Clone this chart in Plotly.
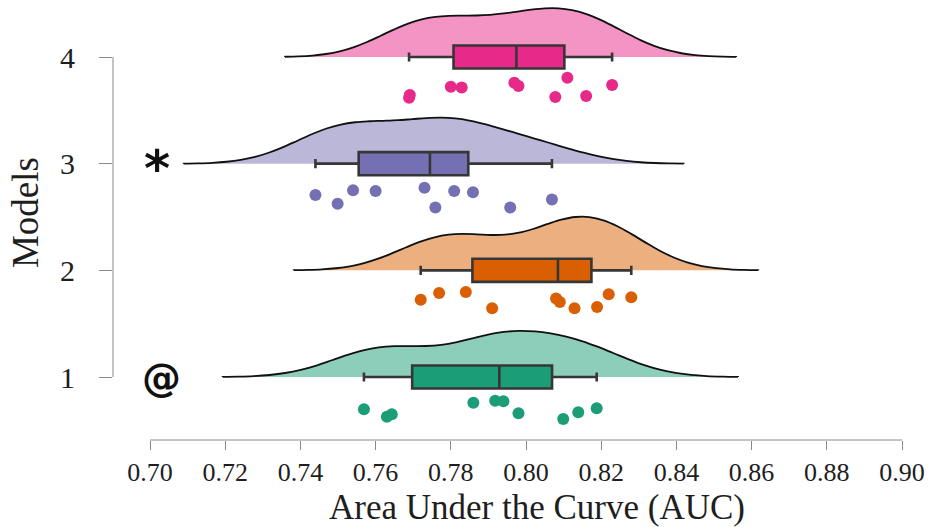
import numpy as np
import plotly.graph_objects as go

# ---------------- data ----------------
model_ids = [1, 2, 3, 4]
model_labels = ["1", "2", "3", "4"]

auc_m1 = [0.7569, 0.7630, 0.7643, 0.7860, 0.7918, 0.7940, 0.7980, 0.8099, 0.8139, 0.8188]
jit_m1 = [-0.303, -0.372, -0.350, -0.241, -0.222, -0.228, -0.340, -0.394, -0.331, -0.293]

auc_m2 = [0.7720, 0.7769, 0.7840, 0.7910, 0.8080, 0.8090, 0.8129, 0.8189, 0.8220, 0.8280]
jit_m2 = [-0.275, -0.213, -0.203, -0.356, -0.265, -0.297, -0.356, -0.344, -0.225, -0.253]

auc_m3 = [0.7440, 0.7499, 0.7540, 0.7600, 0.7730, 0.7759, 0.7809, 0.7859, 0.7958, 0.8069]
jit_m3 = [-0.293, -0.375, -0.250, -0.256, -0.225, -0.410, -0.256, -0.269, -0.412, -0.335]

auc_m4 = [0.7689, 0.7691, 0.7800, 0.7829, 0.7969, 0.7980, 0.8078, 0.8110, 0.8160, 0.8229]
jit_m4 = [-0.382, -0.356, -0.278, -0.287, -0.241, -0.272, -0.375, -0.194, -0.366, -0.263]

x_ticks = [0.70, 0.72, 0.74, 0.76, 0.78, 0.80, 0.82, 0.84, 0.86, 0.88, 0.90]
x_tick_labels = ["0.70", "0.72", "0.74", "0.76", "0.78", "0.80", "0.82", "0.84", "0.86", "0.88", "0.90"]

# ---------------- styles ----------------
colors = ["#1B9E77", "#D95F02", "#7570B3", "#E7298A"]
fills = ["rgba(27,158,119,0.5)", "rgba(217,95,2,0.5)", "rgba(117,112,179,0.5)", "rgba(231,41,138,0.5)"]
all_auc = [auc_m1, auc_m2, auc_m3, auc_m4]
all_jit = [jit_m1, jit_m2, jit_m3, jit_m4]

SERIF = "Liberation Serif, Times New Roman, serif"
BOXLINE = "#363636"
AXISGRAY = "#8a8a8a"
TXT = "#1e1e1e"


def nrd0(v):
    v = np.asarray(v)
    sd = np.std(v, ddof=1)
    iqr = np.percentile(v, 75) - np.percentile(v, 25)
    return 0.9 * min(sd, iqr / 1.34) * len(v) ** (-0.2)


fig = go.Figure()

# half-violins (density)
for k, vals, fc in zip(model_ids, all_auc, fills):
    bw = nrd0(vals)
    fig.add_trace(go.Violin(
        x=vals, y=[k] * len(vals), orientation="h", side="positive",
        bandwidth=bw, spanmode="manual", span=[min(vals) - 3 * bw, max(vals) + 3 * bw],
        scalegroup="all", scalemode="width",
        fillcolor=fc, line=dict(color="#111111", width=1.8),
        points=False, box_visible=False, meanline_visible=False,
        hoverinfo="skip", showlegend=False,
    ))

# boxplots (R-style quartiles)
for k, vals, c in zip(model_ids, all_auc, colors):
    v = np.asarray(vals)
    q1, med, q3 = np.percentile(v, [25, 50, 75])
    iqr = q3 - q1
    lo = v[v >= q1 - 1.5 * iqr].min()
    hi = v[v <= q3 + 1.5 * iqr].max()
    fig.add_trace(go.Box(
        y=[k], q1=[q1], median=[med], q3=[q3], lowerfence=[lo], upperfence=[hi],
        orientation="h", width=0.216, whiskerwidth=0.4,
        fillcolor=c, line=dict(color=BOXLINE, width=2.6),
        boxpoints=False, hoverinfo="skip", showlegend=False,
    ))

# jittered raw points
for k, vals, jit, c in zip(model_ids, all_auc, all_jit, colors):
    fig.add_trace(go.Scatter(
        x=vals, y=[k + j for j in jit], mode="markers",
        marker=dict(color=c, size=12, line=dict(width=0)),
        hoverinfo="skip", showlegend=False,
    ))

fig.update_layout(
    width=930, height=527,
    margin=dict(l=113, r=28, t=5, b=87),
    paper_bgcolor="white", plot_bgcolor="white",
    violinmode="overlay", violingap=0, violingroupgap=0,
    boxmode="overlay",
    xaxis=dict(
        range=[0.69016, 0.90], tickvals=x_ticks, ticktext=x_tick_labels,
        ticks="outside", ticklen=9, tickcolor=AXISGRAY, tickwidth=1,
        showline=False, showgrid=False, zeroline=False,
        tickfont=dict(family=SERIF, size=26, color=TXT),
    ),
    yaxis=dict(
        range=[0.4094, 4.4875], tickvals=model_ids, ticktext=model_labels,
        ticks="outside", ticklen=13, tickcolor=AXISGRAY, tickwidth=1,
        showline=False, showgrid=False, zeroline=False,
        tickfont=dict(family=SERIF, size=30, color=TXT),
        ticklabelstandoff=18,
    ),
    shapes=[
        dict(type="line", xref="x", yref="paper", x0=0.70, x1=0.90, y0=0, y1=0,
             line=dict(color=AXISGRAY, width=1)),
        dict(type="line", xref="paper", yref="y", x0=0, x1=0, y0=1, y1=4,
             line=dict(color=AXISGRAY, width=1)),
    ],
    annotations=[
        dict(text="Area Under the Curve (AUC)", xref="x", yref="paper", x=0.8028, y=0,
             yshift=-67, xanchor="center", yanchor="middle", showarrow=False,
             font=dict(family=SERIF, size=35, color=TXT)),
        dict(text="Models", xref="paper", yref="y", x=0, xshift=-88, y=2.537,
             textangle=-90, xanchor="center", yanchor="middle", showarrow=False,
             font=dict(family=SERIF, size=37, color=TXT)),
        dict(text="<b>*</b>", xref="x", yref="y", x=0.70186, y=3, yshift=-5,
             xanchor="center", yanchor="middle", showarrow=False,
             font=dict(family="DejaVu Sans, sans-serif", size=50, color="#111111")),
        dict(text="<b>@</b>", xref="x", yref="y", x=0.70293, y=1, yshift=0,
             xanchor="center", yanchor="middle", showarrow=False,
             font=dict(family="DejaVu Sans, sans-serif", size=39, color="#111111")),
    ],
)

fig.write_html("out.html", config={"displayModeBar": False},
               post_script="document.body.style.margin='0';document.body.style.padding='0';")
